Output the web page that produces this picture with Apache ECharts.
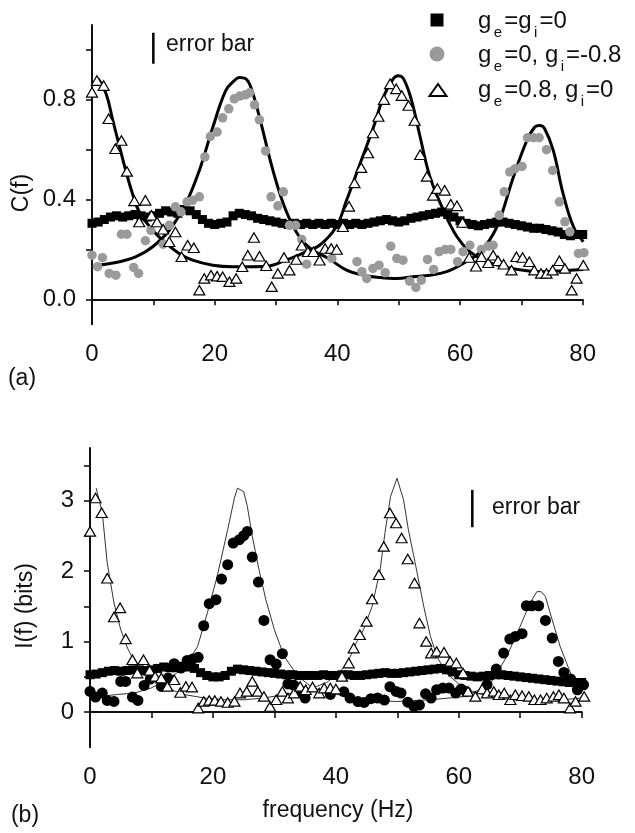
<!DOCTYPE html>
<html><head><meta charset="utf-8">
<script src="https://cdn.jsdelivr.net/npm/echarts@6/dist/echarts.min.js"></script>
<style>html,body{margin:0;padding:0;background:#fff}#c{width:635px;height:833px}</style>
</head><body><div id="c"></div>
<script>
const FONT = '"Liberation Sans", Arial, Helvetica, sans-serif';

// ---------- tick values ----------
const xTicks = [0, 10, 20, 30, 40, 50, 60, 70, 80];
const xLabels = [0, 20, 40, 60, 80];
const yTicksA = [0, 0.2, 0.4, 0.6, 0.8, 1.0];
const yLabelsA = [0, 0.4, 0.8];
const yTicksB = [0, 0.5, 1, 1.5, 2, 2.5, 3, 3.5];
const yLabelsB = [0, 1, 2, 3];

// ---------- panel (a): C(f) ----------
const sqFreq = Array.from({length: 81}, (_, i) => i);
const sqA = [0.305,0.31,0.32,0.33,0.335,0.33,0.335,0.34,0.335,0.33,0.335,0.345,0.355,0.35,0.345,0.36,0.355,0.34,0.32,0.305,0.30,0.305,0.31,0.335,0.345,0.34,0.335,0.325,0.32,0.315,0.31,0.305,0.30,0.305,0.30,0.305,0.30,0.305,0.30,0.305,0.30,0.305,0.30,0.305,0.30,0.305,0.31,0.315,0.32,0.315,0.31,0.315,0.325,0.33,0.335,0.34,0.345,0.35,0.34,0.33,0.315,0.305,0.30,0.295,0.30,0.305,0.31,0.31,0.305,0.30,0.295,0.29,0.285,0.285,0.28,0.275,0.27,0.26,0.255,0.26,0.26];
const circA = [[0,0.177],[0.9,0.131],[1.7,0.167],[2.8,0.104],[3.9,0.097],[4.8,0.261],[5.7,0.261],[6.8,0.128],[7.6,0.104],[8.7,0.235],[9.6,0.277],[11.6,0.221],[12.6,0.297],[13.6,0.371],[14.5,0.351],[15.5,0.391],[16.4,0.397],[17.5,0.411],[18.4,0.571],[19.3,0.653],[20.4,0.671],[21.3,0.728],[22.3,0.764],[23.2,0.804],[24.1,0.815],[25.0,0.82],[25.7,0.828],[26.5,0.78],[27.3,0.72],[28.3,0.595],[29.2,0.411],[30.3,0.375],[31.2,0.431],[32.2,0.297],[33.2,0.297],[34.2,0.24],[35.0,0.141],[39.1,0.164],[43.2,0.151],[44.0,0.111],[44.8,0.084],[45.8,0.124],[46.8,0.137],[47.8,0.107],[48.7,0.213],[49.7,0.164],[50.7,0.157],[51.8,0.073],[52.8,0.048],[53.7,0.077],[54.7,0.16],[55.7,0.12],[56.6,0.191],[57.6,0.2],[58.5,0.2],[59.6,0.151],[60.5,0.191],[61.6,0.217],[63.5,0.2],[64.6,0.213],[65.4,0.217],[66.4,0.337],[67.2,0.431],[68.1,0.511],[69.0,0.524],[70.1,0.533],[71.0,0.648],[72.0,0.648],[72.9,0.648],[74.1,0.6],[75.1,0.517],[76.2,0.391],[77.1,0.311],[77.9,0.271],[79.3,0.184],[80.2,0.187]];
const triA = [[0,0.83],[0.8,0.877],[1.9,0.857],[2.7,0.724],[3.8,0.604],[4.8,0.637],[5.7,0.513],[6.9,0.395],[7.7,0.31],[8.7,0.397],[9.7,0.337],[10.6,0.31],[11.6,0.281],[12.6,0.231],[13.6,0.27],[14.6,0.171],[15.6,0.217],[16.6,0.207],[17.5,0.037],[18.3,0.084],[19.4,0.097],[20.4,0.093],[21.3,0.091],[22.4,0.071],[23.5,0.084],[24.5,0.131],[25.4,0.177],[26.4,0.248],[27.3,0.173],[28.4,0.135],[29.3,0.051],[30.3,0.104],[31.3,0.168],[32.2,0.117],[33.3,0.16],[34.2,0.217],[35.2,0.191],[36.1,0.191],[37.1,0.157],[38.0,0.204],[39.0,0.204],[39.9,0.2],[40.9,0.291],[41.9,0.373],[42.8,0.467],[43.9,0.528],[45.0,0.587],[45.8,0.667],[46.7,0.733],[47.6,0.801],[48.6,0.864],[49.6,0.844],[50.5,0.817],[51.6,0.777],[52.6,0.717],[53.5,0.58],[54.6,0.493],[55.6,0.417],[56.3,0.444],[57.5,0.437],[58.5,0.381],[59.5,0.375],[60.4,0.308],[61.5,0.168],[62.6,0.133],[63.5,0.171],[64.6,0.147],[65.4,0.177],[66.2,0.155],[67.1,0.141],[68.4,0.117],[69.2,0.171],[70.2,0.168],[71.3,0.151],[72.1,0.117],[73.2,0.104],[74.1,0.104],[75.1,0.117],[76.2,0.155],[77.1,0.124],[78.2,0.037],[79.0,0.084],[80.1,0.137]];
const fitCircA = [[0.5,0.135],[4.5,0.151],[7.2,0.171],[9.9,0.211],[12.6,0.277],[15.3,0.384],[17.5,0.517],[19.7,0.69],[21.8,0.837],[23.2,0.877],[24,0.89],[25.1,0.884],[25.9,0.85],[27.3,0.731],[29.5,0.517],[31.6,0.357],[33.8,0.251],[36,0.197],[38.5,0.165],[41.5,0.117],[44.2,0.097],[46.9,0.088],[49.7,0.084],[52.4,0.091],[55.1,0.097],[57.8,0.111],[60.5,0.144],[63.3,0.191],[66,0.291],[68.7,0.491],[70.9,0.637],[72.2,0.691],[73,0.697],[73.8,0.684],[75.2,0.597],[76.8,0.424],[78.5,0.291],[80.1,0.231]];
const fitTriA = [[1.0,0.885],[2.3,0.824],[3.4,0.717],[4.5,0.611],[5.5,0.517],[6.6,0.424],[7.7,0.351],[9.9,0.277],[12.1,0.224],[14.2,0.184],[16.4,0.157],[19.7,0.137],[22.9,0.131],[25.1,0.131],[28.4,0.133],[31.6,0.157],[34.3,0.184],[37.1,0.217],[39.8,0.29],[41.5,0.397],[43.7,0.544],[45.9,0.691],[47.5,0.811],[49.1,0.884],[49.9,0.897],[50.8,0.884],[52.1,0.797],[53.5,0.651],[55.1,0.491],[57.3,0.357],[59.5,0.251],[61.6,0.191],[63.8,0.157],[67.1,0.131],[70.3,0.117],[73.6,0.111],[76.8,0.115],[80.1,0.12]];
const errA = {x: 10, y: 1.007, half: 0.062};

// ---------- panel (b): I(f) ----------
const sqB = [0.53,0.54,0.56,0.58,0.59,0.58,0.59,0.60,0.60,0.59,0.60,0.62,0.64,0.63,0.63,0.65,0.64,0.62,0.56,0.52,0.50,0.50,0.52,0.58,0.61,0.60,0.59,0.58,0.57,0.56,0.55,0.54,0.53,0.53,0.52,0.52,0.52,0.52,0.53,0.52,0.52,0.53,0.53,0.52,0.52,0.53,0.54,0.55,0.56,0.55,0.55,0.56,0.57,0.58,0.59,0.60,0.61,0.62,0.60,0.57,0.53,0.52,0.51,0.50,0.51,0.52,0.53,0.53,0.52,0.51,0.50,0.49,0.48,0.47,0.46,0.45,0.44,0.43,0.42,0.42,0.42];
const circB = [[0,0.294],[0.9,0.213],[2.0,0.27],[2.8,0.166],[3.9,0.152],[5.0,0.436],[5.8,0.436],[6.9,0.213],[7.8,0.166],[8.8,0.379],[9.8,0.469],[11.6,0.365],[12.7,0.483],[13.7,0.687],[14.8,0.625],[15.8,0.734],[16.7,0.753],[17.6,0.777],[18.5,1.226],[19.4,1.539],[20.5,1.596],[21.4,1.889],[22.4,2.093],[23.3,2.40],[24.3,2.448],[25.0,2.505],[25.6,2.566],[26.4,2.202],[27.4,1.847],[28.3,1.302],[29.3,0.743],[30.3,0.682],[31.3,0.829],[32.2,0.40],[33.2,0.38],[34.2,0.28],[35.0,0.20],[39.1,0.25],[41.3,0.29],[42.3,0.2],[43.6,0.15],[44.6,0.137],[45.7,0.19],[46.8,0.2],[47.9,0.17],[48.8,0.36],[49.8,0.294],[50.6,0.27],[51.7,0.14],[52.7,0.08],[53.6,0.1],[54.6,0.26],[55.5,0.2],[56.4,0.317],[57.4,0.341],[58.4,0.341],[59.5,0.27],[60.4,0.327],[61.2,0.29],[64.6,0.39],[66.1,0.611],[67.3,0.838],[68.3,1.037],[69.2,1.075],[70.3,1.113],[71.0,1.51],[71.9,1.51],[73.0,1.51],[74.1,1.302],[75.2,1.051],[76.2,0.72],[77.1,0.563],[78.2,0.47],[79.3,0.317],[80.3,0.388]];
const triB = [[0,2.566],[0.9,3.04],[1.9,2.83],[2.8,1.90],[3.9,1.35],[4.9,1.48],[5.8,1.04],[6.9,0.743],[7.7,0.554],[8.7,0.743],[9.7,0.592],[10.6,0.507],[11.6,0.483],[12.6,0.365],[13.7,0.459],[14.7,0.279],[15.6,0.365],[16.6,0.355],[17.6,0.057],[18.5,0.152],[19.4,0.166],[20.3,0.166],[21.3,0.152],[22.4,0.137],[23.5,0.152],[24.4,0.27],[25.5,0.294],[26.4,0.436],[27.3,0.294],[28.3,0.223],[29.3,0.08],[30.3,0.175],[31.3,0.294],[32.2,0.199],[33.2,0.27],[34.2,0.365],[35.1,0.317],[36.2,0.355],[37.3,0.27],[38.1,0.341],[39.1,0.341],[40.0,0.327],[41.0,0.507],[42.1,0.696],[42.9,0.909],[43.9,1.098],[45.0,1.288],[45.9,1.605],[47.0,1.951],[47.8,2.353],[48.8,2.827],[49.8,2.685],[50.7,2.472],[51.7,2.173],[52.8,1.832],[53.6,1.264],[54.7,1.004],[55.5,0.838],[56.4,0.862],[57.6,0.848],[58.6,0.72],[59.6,0.696],[60.7,0.554],[61.5,0.294],[62.7,0.223],[63.8,0.327],[64.6,0.27],[65.7,0.294],[66.5,0.246],[67.4,0.27],[68.4,0.175],[69.2,0.246],[70.3,0.232],[71.4,0.223],[72.3,0.175],[73.3,0.175],[74.3,0.199],[75.4,0.223],[76.3,0.246],[77.1,0.199],[78.1,0.057],[79.0,0.152],[80.4,0.223]];
const fitCircB = [[1.2,0.22],[4.5,0.25],[7.2,0.27],[9.9,0.34],[12.6,0.46],[15.3,0.63],[17.5,0.93],[19.1,1.41],[20.7,1.93],[22.4,2.59],[23.5,3.04],[24,3.18],[25,3.13],[25.6,2.92],[26.4,2.5],[27.5,2.02],[28.6,1.6],[30,1.17],[31.6,0.79],[33.8,0.51],[36,0.36],[38.1,0.29],[41.8,0.22],[44.5,0.175],[49.9,0.15],[55.4,0.175],[60.8,0.22],[63.5,0.32],[65.6,0.46],[67.8,0.79],[70,1.22],[71.6,1.55],[72.7,1.71],[73.4,1.71],[74.1,1.64],[75.2,1.31],[76.5,0.93],[78.2,0.55],[80,0.36]];
const fitTriB = [[1.0,3.18],[2,2.83],[2.8,2.12],[3.9,1.55],[5,1.17],[6.1,0.91],[7.2,0.72],[8.8,0.55],[11,0.41],[13.1,0.32],[15.3,0.25],[18.6,0.2],[21.8,0.175],[25.1,0.175],[28.3,0.2],[31.6,0.25],[34.9,0.3],[38.5,0.42],[40.5,0.55],[42,0.72],[43.4,1.0],[44.5,1.17],[45.9,1.5],[47.2,2.02],[48,2.55],[48.9,3.06],[49.95,3.32],[51,3.02],[51.8,2.59],[52.9,2.12],[54.3,1.5],[55.4,1.07],[56.5,0.78],[58,0.55],[60,0.4],[62,0.3],[65,0.22],[68,0.18],[72,0.16],[76,0.17],[80,0.2]];
const errB = {x: 62.2, y: 2.89, half: 0.265};

// ---------- legend labels (text, subscripts) ----------
const legendNames = ['ge=gi=0', 'ge=0, gi=-0.8', 'ge=0.8, gi=0'];
const legendParts = [
  [['g','n'],['e','s'],['=g','n'],['i','s'],['=0','n']],
  [['g','n'],['e','s'],['=0, g','n'],['i','s'],['=-0.8','n']],
  [['g','n'],['e','s'],['=0.8, g','n'],['i','s'],['=0','n']]
];

const chart = echarts.init(document.getElementById('c'), null, {renderer: 'canvas'});
const sqDataA = sqFreq.map((f, i) => [f, sqA[i]]);
const sqDataB = sqFreq.map((f, i) => [f, sqB[i]]);
const errLine = e => [[e.x, e.y - e.half], [e.x, e.y + e.half]];

const mctx = document.createElement('canvas').getContext('2d');
function legendText(parts, x0, yc) {
  const out = [];
  let x = x0;
  parts.forEach(([t, k]) => {
    const sub = k === 's';
    const font = (sub ? 15 : 24) + 'px ' + FONT;
    mctx.font = font;
    if (sub) x += 2.5;
    out.push({type: 'text', x: x, y: sub ? yc + 11.7 : yc,
      style: {text: t, font: font, fill: '#111', align: 'left', verticalAlign: 'middle'}});
    x += mctx.measureText(t).width + (sub ? 2 : 0);
  });
  return out;
}

function xAxisCfg(gi) {
  return {
    gridIndex: gi, type: 'value', min: 0, max: 80,
    axisLine: {lineStyle: {color: '#111', width: 2}},
    axisTick: {customValues: xTicks, length: 6, lineStyle: {color: '#111', width: 1.6}},
    axisLabel: {customValues: xLabels, margin: 18, fontFamily: FONT, fontSize: 24, color: '#111'},
    splitLine: {show: false}
  };
}
function yAxisCfg(gi, min, max, ticks, labels, fmt) {
  return {
    gridIndex: gi, type: 'value', min: min, max: max,
    axisLine: {show: true, lineStyle: {color: '#111', width: 2}},
    axisTick: {show: true, customValues: ticks, length: 6, lineStyle: {color: '#111', width: 1.6}},
    axisLabel: {customValues: labels, margin: 16, fontFamily: FONT, fontSize: 24, color: '#111', formatter: fmt},
    splitLine: {show: false}
  };
}
function legendCfg(name, cx, cy, w, h, keep) {
  return {
    data: [name], orient: 'vertical', left: cx - w / 2, top: cy - h / 2, padding: 0,
    itemWidth: w, itemHeight: h, symbolKeepAspect: keep, selectedMode: false,
    formatter: () => '', textStyle: {fontSize: 8}
  };
}

const triStyle = {color: '#fff', borderColor: '#000', borderWidth: 1.2, opacity: 1};

const option = {
  animation: false,
  backgroundColor: '#fff',
  grid: [
    {left: 92, top: 25, width: 490.7, height: 299.3},
    {left: 90, top: 448, width: 491.7, height: 299.3}
  ],
  xAxis: [xAxisCfg(0), xAxisCfg(1)],
  yAxis: [
    yAxisCfg(0, -0.1, 1.1, yTicksA, yLabelsA, v => v.toFixed(1)),
    yAxisCfg(1, -0.5, 3.75, yTicksB, yLabelsB, v => String(v))
  ],
  legend: [
    legendCfg(legendNames[0], 437, 20, 13, 13, true),
    legendCfg(legendNames[1], 437, 54, 15, 15, true),
    legendCfg(legendNames[2], 437, 89, 17, 12, false)
  ],
  graphic: [
    {type: 'text', x: 22, y: 193, rotation: Math.PI / 2, style: {text: 'C(f)', font: '23px ' + FONT, fill: '#111', align: 'center', verticalAlign: 'middle'}},
    {type: 'text', x: 26, y: 606, rotation: Math.PI / 2, style: {text: 'I(f) (bits)', font: '23px ' + FONT, fill: '#111', align: 'center', verticalAlign: 'middle'}},
    {type: 'text', x: 22, y: 379, style: {text: '(a)', font: '23px ' + FONT, fill: '#111', align: 'center', verticalAlign: 'middle'}},
    {type: 'text', x: 25, y: 816, style: {text: '(b)', font: '23px ' + FONT, fill: '#111', align: 'center', verticalAlign: 'middle'}},
    {type: 'text', x: 338, y: 811, style: {text: 'frequency (Hz)', font: '23px ' + FONT, fill: '#111', align: 'center', verticalAlign: 'middle'}},
    {type: 'text', x: 166, y: 45, style: {text: 'error bar', font: '23px ' + FONT, fill: '#111', align: 'left', verticalAlign: 'middle'}},
    {type: 'text', x: 492, y: 508, style: {text: 'error bar', font: '23px ' + FONT, fill: '#111', align: 'left', verticalAlign: 'middle'}}
  ].concat(legendText(legendParts[0], 478, 21), legendText(legendParts[1], 478, 55.5), legendText(legendParts[2], 478, 90)),
  series: [
    // panel (a)
    {type: 'line', xAxisIndex: 0, yAxisIndex: 0, data: fitCircA, smooth: 0.4, showSymbol: false, clip: false, lineStyle: {color: '#000', width: 3}, z: 2},
    {type: 'line', xAxisIndex: 0, yAxisIndex: 0, data: fitTriA, smooth: 0.4, showSymbol: false, clip: false, lineStyle: {color: '#000', width: 3}, z: 2},
    {type: 'line', xAxisIndex: 0, yAxisIndex: 0, data: errLine(errA), showSymbol: false, clip: false, lineStyle: {color: '#000', width: 2.5}, z: 2},
    {name: legendNames[0], type: 'scatter', xAxisIndex: 0, yAxisIndex: 0, data: sqDataA, symbol: 'rect', symbolSize: 9, clip: false, itemStyle: {color: '#000', opacity: 1}, z: 3},
    {name: legendNames[1], type: 'scatter', xAxisIndex: 0, yAxisIndex: 0, data: circA, symbol: 'circle', symbolSize: 9.5, clip: false, itemStyle: {color: '#9a9a9a', opacity: 1}, z: 3},
    {name: legendNames[2], type: 'scatter', xAxisIndex: 0, yAxisIndex: 0, data: triA, symbol: 'triangle', symbolSize: [11, 9.5], clip: false, itemStyle: triStyle, z: 4},
    // panel (b)
    {type: 'line', xAxisIndex: 1, yAxisIndex: 1, data: fitCircB, showSymbol: false, clip: false, lineStyle: {color: '#333', width: 1}, z: 2},
    {type: 'line', xAxisIndex: 1, yAxisIndex: 1, data: fitTriB, showSymbol: false, clip: false, lineStyle: {color: '#333', width: 1}, z: 2},
    {type: 'line', xAxisIndex: 1, yAxisIndex: 1, data: errLine(errB), showSymbol: false, clip: false, lineStyle: {color: '#000', width: 2.5}, z: 2},
    {name: 'b-sq', type: 'scatter', xAxisIndex: 1, yAxisIndex: 1, data: sqDataB, symbol: 'rect', symbolSize: 9, clip: false, itemStyle: {color: '#000', opacity: 1}, z: 3},
    {name: 'b-circ', type: 'scatter', xAxisIndex: 1, yAxisIndex: 1, data: circB, symbol: 'circle', symbolSize: 11, clip: false, itemStyle: {color: '#000', opacity: 1}, z: 3},
    {name: 'b-tri', type: 'scatter', xAxisIndex: 1, yAxisIndex: 1, data: triB, symbol: 'triangle', symbolSize: [11, 9.5], clip: false, itemStyle: triStyle, z: 4}
  ]
};
chart.setOption(option);
</script></body></html>
